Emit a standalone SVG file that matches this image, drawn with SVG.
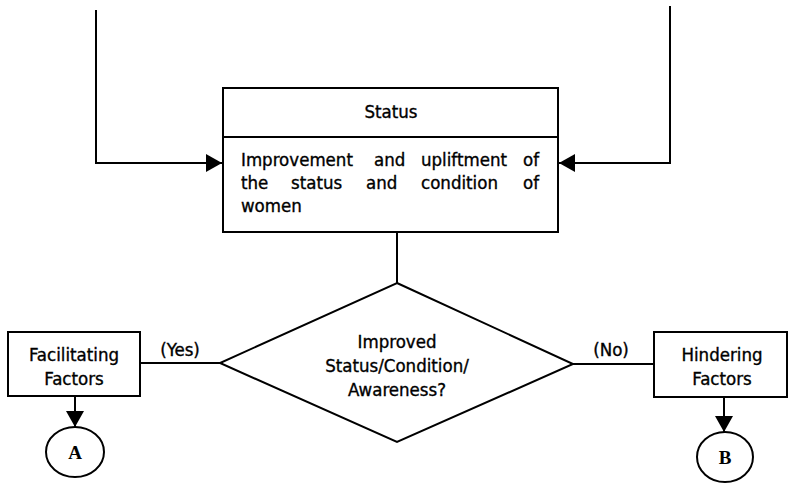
<svg xmlns="http://www.w3.org/2000/svg" width="788" height="484" viewBox="0 0 788 484">
  <defs>
    <marker id="arrow" markerUnits="userSpaceOnUse" markerWidth="18" markerHeight="18" viewBox="0 0 16 18" refX="16" refY="9" orient="auto">
      <path d="M0,0 L16,9 L0,18 Z" fill="#000"/>
    </marker>
    <style>
      .box { fill: #fff; stroke: #000; stroke-width: 2; }
      .line { fill: none; stroke: #000; stroke-width: 2; }
      .t { font-family: "DejaVu Sans Condensed", "DejaVu Sans", Verdana, sans-serif; font-stretch: condensed; font-size: 18.5px; fill: #000; stroke: #000; stroke-width: 0.35; }
      .c { text-anchor: middle; }
      .serif { font-family: "Liberation Serif", "Times New Roman", serif; font-size: 19px; font-weight: bold; fill: #000; text-anchor: middle; }
    </style>
  </defs>

  <!-- connectors -->
  <g id="connectors">
    <path class="line" d="M96,10 V163 H222" marker-end="url(#arrow)"/>
    <path class="line" d="M670,6 V163 H559" marker-end="url(#arrow)"/>
    <path class="line" d="M397,232 V283"/>
    <path class="line" d="M220,363 H140"/>
    <path class="line" d="M573,364 H654"/>
    <path class="line" d="M75,396 V427" marker-end="url(#arrow)"/>
    <path class="line" d="M724,397 V432" marker-end="url(#arrow)"/>
    <text class="t c" x="180" y="356">(Yes)</text>
    <text class="t c" x="611" y="356">(No)</text>
  </g>

  <!-- status box -->
  <g id="status">
    <rect class="box" x="223" y="88" width="335" height="144"/>
    <line class="line" x1="223" y1="137" x2="558" y2="137"/>
    <text class="t c" x="391" y="118">Status</text>
    <text class="t" y="166">
      <tspan x="241">Improvement</tspan>
      <tspan x="374">and</tspan>
      <tspan x="421">upliftment</tspan>
      <tspan x="523">of</tspan>
    </text>
    <text class="t" y="189">
      <tspan x="241">the</tspan>
      <tspan x="291">status</tspan>
      <tspan x="366">and</tspan>
      <tspan x="421">condition</tspan>
      <tspan x="523">of</tspan>
    </text>
    <text class="t" x="241" y="212">women</text>
  </g>

  <!-- decision -->
  <g id="decision">
    <polygon class="box" points="397,283 573,364 397,442 220,363"/>
    <text class="t c" x="397" y="348">Improved</text>
    <text class="t c" x="397" y="372">Status/Condition/</text>
    <text class="t c" x="397" y="396">Awareness?</text>
  </g>

  <!-- facilitating factors -->
  <g id="facilitating">
    <rect class="box" x="8" y="332" width="132" height="64"/>
    <text class="t c" x="74" y="361">Facilitating</text>
    <text class="t c" x="74" y="385">Factors</text>
  </g>

  <!-- hindering factors -->
  <g id="hindering">
    <rect class="box" x="654" y="332" width="133" height="65"/>
    <text class="t c" x="722" y="361">Hindering</text>
    <text class="t c" x="722" y="385">Factors</text>
  </g>

  <!-- connector A -->
  <g id="connA">
    <ellipse class="box" cx="75" cy="452" rx="29" ry="25"/>
    <text class="serif" x="75" y="459">A</text>
  </g>

  <!-- connector B -->
  <g id="connB">
    <ellipse class="box" cx="725" cy="457" rx="28" ry="25"/>
    <text class="serif" x="725" y="464">B</text>
  </g>
</svg>
